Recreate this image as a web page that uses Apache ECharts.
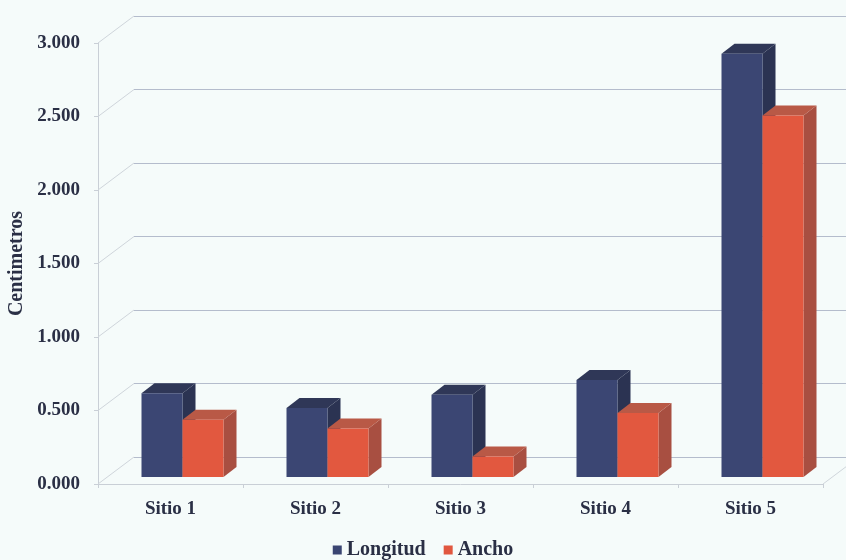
<!DOCTYPE html>
<html>
<head>
<meta charset="utf-8">
<script src="https://cdn.jsdelivr.net/npm/echarts@6/dist/echarts.min.js"></script>
<style>
  html, body { margin: 0; padding: 0; background: #f5fbfa; }
  #chart { width: 846px; height: 560px; }
</style>
</head>
<body>
<div id="chart"></div>
<script>
var categories = ['Sitio 1', 'Sitio 2', 'Sitio 3', 'Sitio 4', 'Sitio 5'];
var longitud = [0.57, 0.47, 0.56, 0.66, 2.88];
var ancho = [0.39, 0.33, 0.14, 0.435, 2.46];
var yTicks = [0, 0.5, 1, 1.5, 2, 2.5, 3];

// perspective offsets (px)
var backDX = 36, backDY = -27;     // front plane -> back wall
var barDX = 12, barDY = -7;        // front plane -> bar front face
var depthDX = 13, depthDY = -10;   // bar depth
var barW = 41;

var fontFam = '"Liberation Serif", "DejaVu Serif", serif';
var textColor = '#2a2f45';

function bar3d(side, front, top, right){
    return function(params, api){
        var cat = api.value(0), v = api.value(1);
        var t = api.coord([cat, v]);
        var b = api.coord([cat, 0]);
        var x0 = t[0] + barDX + (side < 0 ? -barW : 0);
        var x1 = x0 + barW;
        var y0 = t[1] + barDY, y1 = b[1] + barDY;
        return {
            type: 'group',
            children: [
                {type: 'polygon', shape: {points: [[x1, y0], [x1 + depthDX, y0 + depthDY], [x1 + depthDX, y1 + depthDY], [x1, y1]]}, style: {fill: right}},
                {type: 'polygon', shape: {points: [[x0, y0], [x0 + depthDX, y0 + depthDY], [x1 + depthDX, y0 + depthDY], [x1, y0]]}, style: {fill: top}},
                {type: 'rect', shape: {x: x0, y: y0, width: barW, height: y1 - y0}, style: {fill: front}}
            ]
        };
    };
}

var chart = echarts.init(document.getElementById('chart'));
var option = {
    backgroundColor: '#f5fbfa',
    animation: false,
    legend: {
        data: ['Longitud', 'Ancho'],
        top: 535,
        left: 'center',
        itemWidth: 9,
        itemHeight: 9,
        itemGap: 18,
        icon: 'rect',
        textStyle: {fontFamily: fontFam, fontWeight: 'bold', fontSize: 20, color: textColor}
    },
    grid: [
        {left: 98, right: 23, top: 43, bottom: 76, containLabel: false, outerBoundsMode: 'none'},
        {left: 134, right: 0, top: 16, bottom: 103, containLabel: false, outerBoundsMode: 'none'}
    ],
    xAxis: [
        {
            type: 'category', data: categories, gridIndex: 0,
            axisLine: {lineStyle: {color: '#c9cfd6'}},
            axisTick: {show: true, length: 4, lineStyle: {color: '#c9cfd6'}},
            axisLabel: {margin: 16, fontFamily: fontFam, fontWeight: 'bold', fontSize: 19, color: textColor}
        },
        {type: 'category', data: categories, gridIndex: 1, show: false}
    ],
    yAxis: [
        {
            type: 'value', gridIndex: 0, min: 0, max: 3, interval: 0.5,
            name: 'Centimetros', nameLocation: 'middle', nameGap: 70, nameRotate: 90,
            nameTextStyle: {fontFamily: fontFam, fontWeight: 'bold', fontSize: 20, color: textColor},
            axisLine: {show: true, lineStyle: {color: '#c9cfd6'}},
            axisTick: {show: true, length: 4, lineStyle: {color: '#c9cfd6'}},
            splitLine: {show: false},
            axisLabel: {
                margin: 18, fontFamily: fontFam, fontWeight: 'bold', fontSize: 19, color: textColor,
                formatter: function(v){ return v.toFixed(3); }
            }
        },
        {
            type: 'value', gridIndex: 1, min: 0, max: 3, interval: 0.5,
            axisLine: {show: false}, axisTick: {show: false}, axisLabel: {show: false},
            splitLine: {show: true, lineStyle: {color: '#b4bccc', width: 1}}
        }
    ],
    series: [
        {
            type: 'custom', name: 'wall', silent: true, z: 1,
            xAxisIndex: 0, yAxisIndex: 0,
            data: yTicks.map(function(v){ return [0, v]; }),
            renderItem: function(params, api){
                var cs = params.coordSys;
                var y = api.coord([0, api.value(1)])[1];
                var kids = [{type: 'line', shape: {x1: cs.x, y1: y, x2: cs.x + backDX, y2: y + backDY}, style: {stroke: '#cfd5db', lineWidth: 1}}];
                if (api.value(1) === 0) {
                    var xr = cs.x + cs.width;
                    kids.push({type: 'line', shape: {x1: xr, y1: y, x2: xr + backDX, y2: y + backDY}, style: {stroke: '#cfd5db', lineWidth: 1}});
                }
                return {type: 'group', children: kids};
            }
        },
        {
            type: 'custom', name: 'Longitud', z: 3,
            xAxisIndex: 0, yAxisIndex: 0,
            itemStyle: {color: '#3a4572'},
            data: longitud.map(function(v, i){ return [i, v]; }),
            renderItem: bar3d(-1, '#3b4673', '#2f3757', '#2b3352')
        },
        {
            type: 'custom', name: 'Ancho', z: 4,
            xAxisIndex: 0, yAxisIndex: 0,
            itemStyle: {color: '#e1573f'},
            data: ancho.map(function(v, i){ return [i, v]; }),
            renderItem: bar3d(1, '#e2583f', '#b95946', '#a84f41')
        }
    ]
};
chart.setOption(option);
</script>
</body>
</html>
